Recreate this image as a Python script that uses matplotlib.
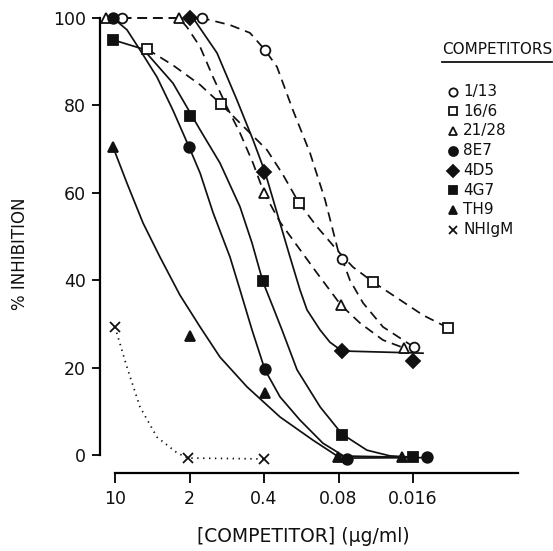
import matplotlib
matplotlib.use('Agg')
import matplotlib.pyplot as plt
from matplotlib.lines import Line2D

plt.rcParams['font.family'] = ['DejaVu Sans']

# ---------------- data ----------------
series_names = ['1/13', '16/6', '21/28', '8E7', '4D5', '4G7', 'TH9', 'NHIgM']

# measured points: competitor concentration (ug/ml) and % inhibition
conc_113 = [8.6, 1.53, 0.392, 0.0742, 0.0157]
inh_113 = [100, 100, 92.7, 44.9, 24.7]
conc_166 = [5.0, 1.01, 0.188, 0.038, 0.0075]
inh_166 = [92.9, 80.3, 57.7, 39.6, 29.1]
conc_2128 = [12.1, 2.51, 0.40, 0.076, 0.0195]
inh_2128 = [100, 100, 60.0, 34.3, 24.5]
conc_8e7 = [10.4, 2.02, 0.392, 0.0666, 0.0118]
inh_8e7 = [100, 70.5, 19.7, -0.9, -0.5]
conc_4d5 = [1.98, 0.40, 0.0742, 0.016]
inh_4d5 = [100, 64.8, 23.8, 21.5]
conc_4g7 = [10.4, 1.98, 0.409, 0.0742, 0.016]
inh_4g7 = [95.0, 77.6, 39.8, 4.6, -0.5]
conc_th9 = [10.4, 1.98, 0.392, 0.081, 0.0203]
inh_th9 = [70.5, 27.2, 14.2, -0.5, -0.5]
conc_nh = [10, 2.07, 0.40]
inh_nh = [29.3, -0.7, -0.9]

# hand-drawn fitted curves
curve_113_x = [8.6, 1.53, 0.834, 0.542, 0.392, 0.302, 0.214, 0.148, 0.107, 0.081, 0.0742, 0.0625, 0.0471, 0.0306, 0.0157]
curve_113_y = [100, 100, 98.4, 96.6, 92.7, 88.8, 78.9, 69.1, 58.4, 46.9, 44.9, 40.0, 34.8, 29.3, 24.7]
curve_166_x = [5.01, 2.86, 1.59, 1.013, 0.542, 0.375, 0.271, 0.188, 0.127, 0.0827, 0.0585, 0.038, 0.0212, 0.0129, 0.0075]
curve_166_y = [92.9, 89.2, 84.7, 80.3, 73.7, 69.8, 64.5, 57.7, 52.2, 46.9, 43.0, 39.6, 35.5, 32.0, 29.1]
curve_2128_x = [12.14, 2.51, 2.11, 1.59, 1.204, 0.890, 0.672, 0.507, 0.40, 0.283, 0.214, 0.127, 0.0759, 0.0503, 0.0306, 0.0195]
curve_2128_y = [100, 100, 97.9, 93.4, 86.5, 79.6, 73.7, 66.8, 60.0, 53.3, 49.2, 41.6, 34.3, 30.2, 26.3, 24.5]
curve_8e7_x = [10.44, 7.72, 5.83, 4.04, 2.86, 2.02, 1.59, 1.20, 0.834, 0.672, 0.518, 0.392, 0.283, 0.184, 0.112, 0.0666, 0.0118]
curve_8e7_y = [100, 97.3, 92.7, 86.5, 78.9, 70.5, 64.5, 55.4, 45.3, 37.8, 28.6, 19.5, 13.3, 8.0, 2.7, -0.7, -0.6]
curve_4d5_x = [2.02, 1.85, 1.104, 0.717, 0.507, 0.392, 0.302, 0.228, 0.184, 0.158, 0.119, 0.0962, 0.0742, 0.0129]
curve_4d5_y = [100, 100, 92.0, 81.2, 72.1, 64.8, 55.4, 45.3, 37.8, 33.2, 28.6, 25.8, 23.8, 23.3]
curve_4g7_x = [10.44, 5.46, 2.86, 1.59, 1.035, 0.672, 0.518, 0.409, 0.330, 0.271, 0.196, 0.119, 0.0742, 0.0433, 0.0263, 0.016]
curve_4g7_y = [95.0, 92.9, 85.1, 74.4, 66.8, 56.8, 48.5, 39.6, 33.9, 28.6, 19.5, 11.0, 4.8, 1.1, -0.2, -0.5]
curve_th9_x = [10.44, 7.72, 5.46, 3.785, 2.46, 1.59, 1.035, 0.578, 0.283, 0.139, 0.0827, 0.0203]
curve_th9_y = [70.5, 62.2, 53.1, 45.3, 36.6, 29.3, 22.4, 15.6, 8.7, 3.4, -0.2, -0.5]
curve_nh_x = [10, 7.72, 5.83, 4.04, 2.62, 2.07, 0.409]
curve_nh_y = [29.3, 20.1, 11.0, 4.1, 0.5, -0.7, -0.9]

x_ticks = [10, 2, 0.4, 0.08, 0.016]
x_tick_labels = ['10', '2', '0.4', '0.08', '0.016']
y_ticks = [0, 20, 40, 60, 80, 100]

points = [(conc_113, inh_113), (conc_166, inh_166), (conc_2128, inh_2128),
          (conc_8e7, inh_8e7), (conc_4d5, inh_4d5), (conc_4g7, inh_4g7),
          (conc_th9, inh_th9), (conc_nh, inh_nh)]
curves = [(curve_113_x, curve_113_y), (curve_166_x, curve_166_y),
          (curve_2128_x, curve_2128_y), (curve_8e7_x, curve_8e7_y),
          (curve_4d5_x, curve_4d5_y), (curve_4g7_x, curve_4g7_y),
          (curve_th9_x, curve_th9_y), (curve_nh_x, curve_nh_y)]

# ---------------- styles ----------------
K = '#111111'
dash = (0, (5.5, 3.5))
dot = (0, (0.8, 2.6))
styles = [
    dict(ls=dash, marker='o', mfc='white', ms=7.0),
    dict(ls=dash, marker='s', mfc='white', ms=6.8),
    dict(ls=dash, marker='^', mfc='white', ms=7.2),
    dict(ls='-', marker='o', mfc=K, ms=7.6),
    dict(ls='-', marker='D', mfc=K, ms=7.2),
    dict(ls='-', marker='s', mfc=K, ms=7.0),
    dict(ls='-', marker='^', mfc=K, ms=7.4),
    dict(ls=dot, marker='x', mfc=K, ms=6.5),
]

fig = plt.figure(figsize=(5.53, 5.51), dpi=100)
ax = fig.add_axes([0.1808, 0.15045, 0.7559, 0.8248])
ax.set_xscale('log')
ax.set_xlim(13.83, 0.001657)
ax.set_ylim(-3, 101)

for (cx, cy), (px, py), st in zip(curves, points, styles):
    ax.plot(cx, cy, color=K, lw=1.25, ls=st['ls'], zorder=2,
            solid_joinstyle='round')
    ax.plot(px, py, ls='none', marker=st['marker'], ms=st['ms'],
            mfc=st['mfc'], mec=K, mew=1.3, zorder=3, clip_on=False)

for s in ['top', 'right']:
    ax.spines[s].set_visible(False)
ax.spines['left'].set_bounds(0, 100)
ax.spines['left'].set_linewidth(1.6)
ax.spines['bottom'].set_position(('data', -4.2))
ax.spines['bottom'].set_bounds(10, 0.001657)
ax.spines['bottom'].set_linewidth(1.6)

ax.set_xticks(x_ticks)
ax.set_xticklabels(x_tick_labels)
ax.xaxis.set_minor_locator(matplotlib.ticker.NullLocator())
ax.set_yticks(y_ticks)
ax.tick_params(axis='y', direction='out', length=6, width=1.4, pad=4,
               labelsize=12.5, colors=K)
ax.tick_params(axis='x', direction='out', length=7, width=1.4, pad=5,
               labelsize=12.5, colors=K)

fig.text(20 / 553, 1 - 254 / 551, '% INHIBITION', rotation=90,
         ha='center', va='center', fontsize=12, color=K)
fig.text(303 / 553, 1 - 537 / 551, '[COMPETITOR] (\u03bcg/ml)',
         ha='center', va='center', fontsize=13.5, color=K)

# legend (manual, like the original)
fig.text(497 / 553, 1 - 50 / 551, 'COMPETITORS', ha='center', va='center',
         fontsize=11, color=K)
fig.add_artist(Line2D([442 / 553, 552 / 553], [1 - 62 / 551, 1 - 62 / 551],
                      transform=fig.transFigure, color=K, lw=1.3))
for i, (name, st) in enumerate(zip(series_names, styles)):
    yy = 1 - (91.5 + 19.75 * i) / 551
    fig.add_artist(Line2D([453 / 553], [yy], transform=fig.transFigure,
                          ls='none', marker=st['marker'], ms=st['ms'] * 0.85,
                          mfc=st['mfc'], mec=K, mew=1.3))
    fig.text(463 / 553, yy, name, ha='left', va='center', fontsize=11, color=K)

fig.savefig('out.png', dpi=100, facecolor='white')
